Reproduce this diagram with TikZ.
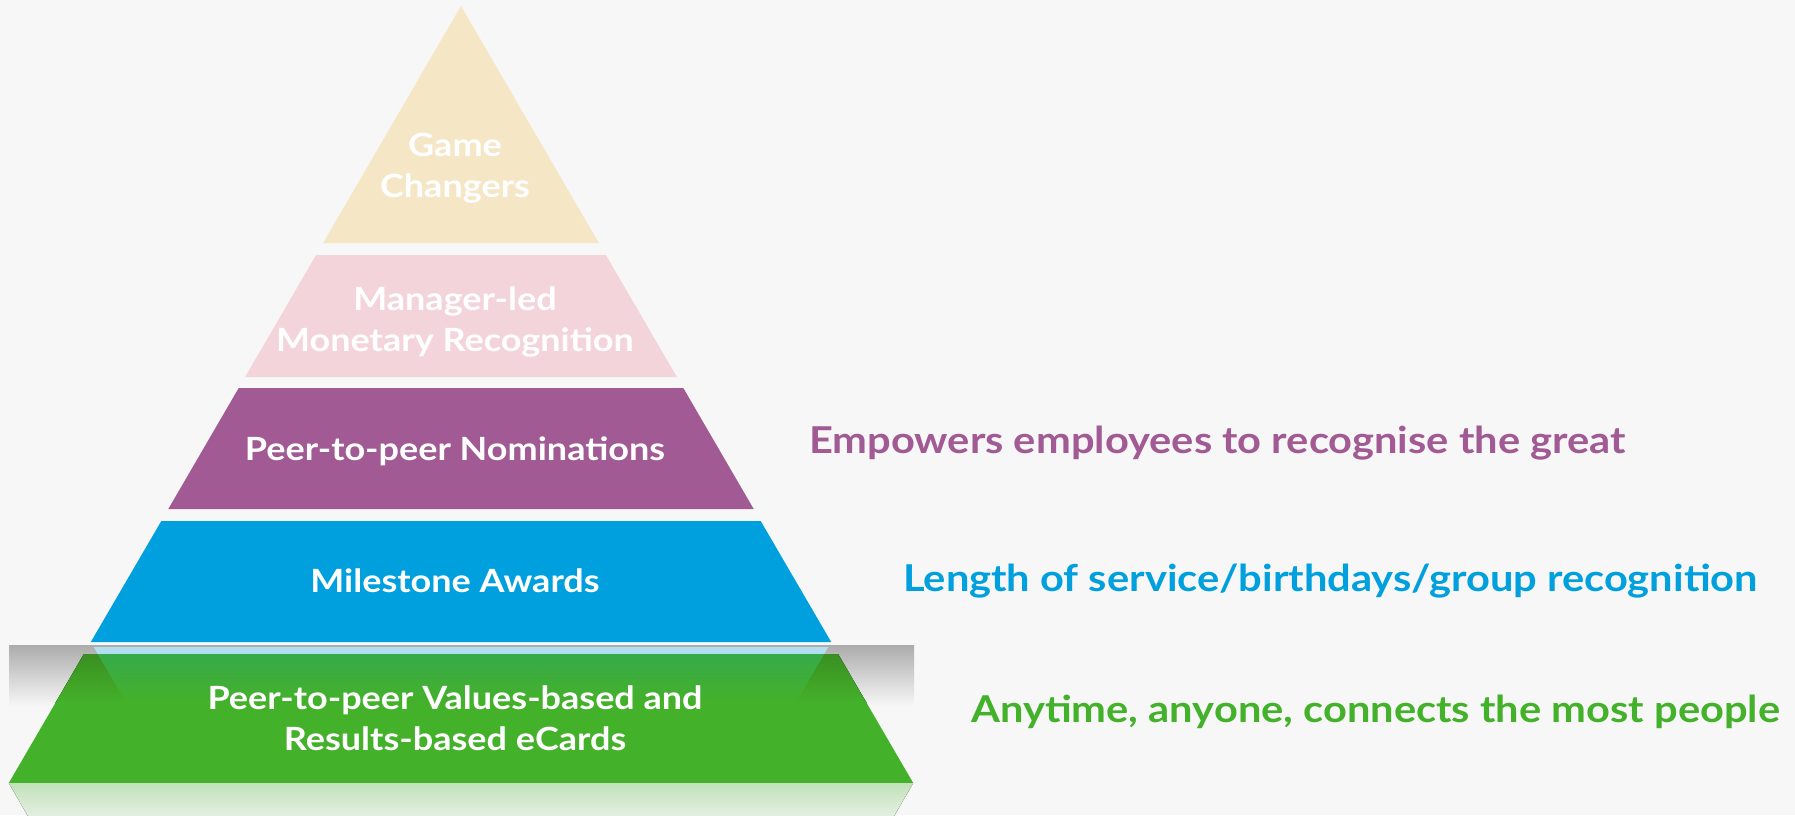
\documentclass[tikz,border=0pt]{standalone}
\usepackage{fontspec}
\setmainfont{Lato}[FakeStretch=1.125]
\definecolor{bgcol}{HTML}{F7F7F7}
\definecolor{tiergold}{HTML}{F5E7C6}
\definecolor{tierpink}{HTML}{F4D4DB}
\definecolor{tierpurple}{HTML}{A15A94}
\definecolor{tierblue}{HTML}{00A0DF}
\definecolor{tiergreen}{HTML}{44B12A}
\definecolor{edgegreen}{HTML}{3A8F22}
\definecolor{reflgreen}{HTML}{37AA4A}
\definecolor{reflblue}{HTML}{B3DEF0}
\definecolor{shadowgray}{HTML}{ACACAC}

\tikzset{
  tier/.style={text=white, font=\fontsize{32}{41}\selectfont\bfseries, align=center, inner sep=0pt, anchor=base},
  note/.style={font=\fontsize{37}{44}\selectfont\bfseries, inner sep=0pt, anchor=base west}
}

\begin{document}
\begin{tikzpicture}[x=1pt,y=-1pt]
	    \useasboundingbox (0,0) rectangle (1795,815);
	    \clip (0,0) rectangle (1795,815);
	    \fill[bgcol] (0,0) rectangle (1795,815);
	    % tiers, top to bottom
	    \fill[tiergold] (461,6) -- (598.9,243) -- (323.1,243) -- cycle;
	    \fill[tierpink] (316.1,255) -- (605.9,255) -- (676.9,377) -- (245.1,377) -- cycle;
	    \fill[tierpurple] (238.7,388) -- (683.3,388) -- (753.7,509) -- (168.3,509) -- cycle;
	    \fill[tierblue] (161.3,521) -- (760.7,521) -- (831.2,642) -- (90.8,642) -- cycle;
	    % shadow under the blue tier
	    \fill[top color=shadowgray, bottom color=bgcol] (9,645) rectangle (914,706);
	    \fill[tiergreen] (83.9,654) -- (838.1,654) -- (913.2,783) -- (8.8,783) -- cycle;
	    \begin{scope}
	        \clip (83.9,654) -- (838.1,654) -- (913.2,783) -- (8.8,783) -- cycle;
	        \fill[top color=edgegreen, bottom color=tiergreen] (0,654) rectangle (920,703);
	    \end{scope}
	    % mirror of the blue tier, one pixel row at a time
	    \fill[reflblue] (93.7,647) -- (828.3,647) -- (824.2,654) -- (97.8,654) -- cycle;
	    \foreach \i in {0,...,47} {
	        \pgfmathsetmacro\mix{100-100*\i/48}
	        \fill[reflgreen!\mix!tiergreen] ({97.8+0.582*\i},{654+\i}) -- ({824.2-0.582*\i},{654+\i})
	            -- ({824.2-0.582*(\i+1)},{655+\i}) -- ({97.8+0.582*(\i+1)},{655+\i}) -- cycle;
	    }
	    % mirror of the green tier
	    \fill[top color=tiergreen!30!bgcol, bottom color=bgcol] (8.8,783) -- (913.2,783) -- (883.1,835) -- (38.9,835) -- cycle;

	    \node[tier] (game) at (455,197) {Game\\Changers};
	    \node[tier] (manager) at (455,351) {Manager-led\\Monetary Recognition};
	    \node[tier] (nominate) at (455,460) {Peer-to-peer Nominations};
	    \node[tier] (milestone) at (455,592) {Milestone Awards};
	    \node[tier] (ecards) at (455,750) {Peer-to-peer Values-based and\\Results-based eCards};

	    \node[note, text=tierpurple] (empower) at (809,453) {Empowers employees to recognise the great};
	    \node[note, text=tierblue] (service) at (903,591) {Length of service/birthdays/group recognition};
	    \node[note, text=tiergreen] (anytime) at (971,722) {Anytime, anyone, connects the most people};
        \end{tikzpicture}
\end{document}
